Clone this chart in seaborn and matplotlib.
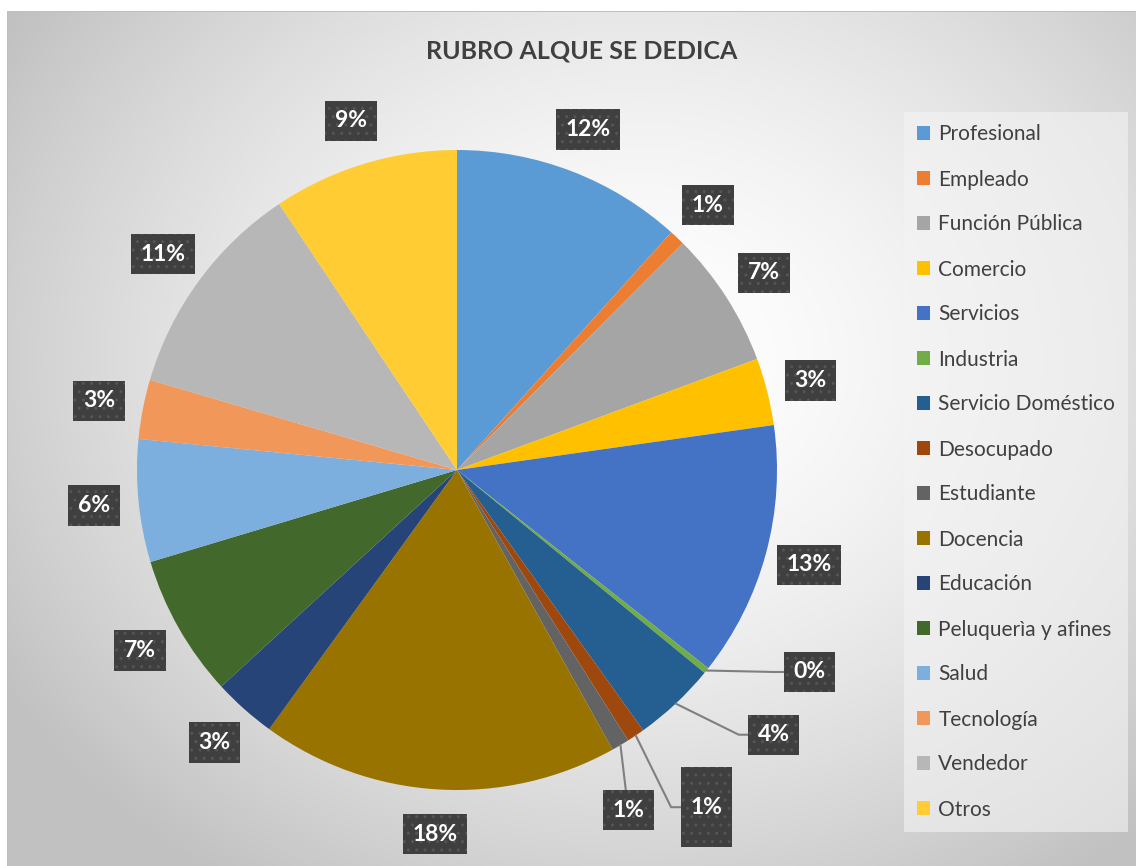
import numpy as np
import matplotlib.pyplot as plt
import seaborn as sns

# data (percent of respondents)
categories = ["Profesional", "Empleado", "Función Pública", "Comercio", "Servicios",
              "Industria", "Servicio Doméstico", "Desocupado", "Estudiante", "Docencia",
              "Educación", "Peluquerìa y afines", "Salud", "Tecnología", "Vendedor", "Otros"]
shares = [11.7, 0.8, 6.9, 3.4, 12.9, 0.3, 4.2, 0.9, 0.9, 18.1, 3.2, 7.2, 6.2, 3.0, 11.1, 9.4]
colors = ["#5B9BD5", "#ED7D31", "#A5A5A5", "#FFC000", "#4472C4", "#70AD47", "#255E91",
          "#9E480E", "#636363", "#997300", "#264478", "#43682B", "#7CAFDD", "#F1975A",
          "#B7B7B7", "#FFCD33"]
title = "RUBRO ALQUE SE DEDICA"

# label placement: radius factor and clockwise shift (deg) from slice middle
lab_r = [1.14] * 16
lab_shift = [0] * 16
lab_r[5], lab_shift[5] = 1.27, -9
lab_r[6], lab_shift[6] = 1.29, -7
lab_r[7], lab_shift[7] = 1.31, -2.5
lab_r[8], lab_shift[8] = 1.19, 4
leader = {5: "elbow", 6: "elbow", 7: "elbow", 8: "direct"}

sns.set_style("white")
plt.rcParams['font.family'] = ['Lato', 'DejaVu Sans']

W, H = 1136, 866
fig = plt.figure(figsize=(W / 100, H / 100), dpi=100)
fig.patch.set_facecolor("white")

# grey radial gradient behind the chart, like the Excel chart area
bg = fig.add_axes([0, 0, 1, 1])
yy, xx = np.mgrid[0:H, 0:W]
d = np.hypot((xx - 640) / 760, (yy - 360) / 640)
shade = 1.0 - 0.25 * np.clip(d, 0, 1.3) ** 1.6
shade = np.clip(shade, 0.76, 1.0)
shade[:12, :] = 1.0
shade[:, :7] = 1.0
shade[11, 7:] = 0.75
shade[12:, 7] = 0.75
bg.imshow(np.dstack([shade] * 3), extent=(0, W, H, 0), aspect="auto")
bg.set_xlim(0, W)
bg.set_ylim(H, 0)
bg.axis("off")

ax = fig.add_axes([0, 0, 1, 1])
ax.patch.set_alpha(0)
cx, cy, R = 457, H - 470, 320
wedges, _ = ax.pie(shares, colors=colors, startangle=90, counterclock=False,
                   center=(cx, cy), radius=R, frame=True,
                   wedgeprops=dict(linewidth=0))
ax.set_xlim(0, W)
ax.set_ylim(0, H)
ax.axis("off")

total = sum(shares)
for i, w in enumerate(wedges):
    mid = np.deg2rad((w.theta1 + w.theta2) / 2)
    pos = mid - np.deg2rad(lab_shift[i])
    lx = cx + lab_r[i] * R * np.cos(pos)
    ly = cy + lab_r[i] * R * np.sin(pos)
    txt = f"{round(shares[i] / total * 100):.0f}%"
    if i == 7:
        txt = "\n" + txt + "\n"
    if i in leader:
        ex = cx + R * np.cos(mid)
        ey = cy + R * np.sin(mid)
        if leader[i] == "elbow":
            ax.plot([ex, lx - 35, lx], [ey, ly, ly], color="#7F7F7F", lw=1.5, zorder=3)
        else:
            ax.plot([ex, lx], [ey, ly], color="#7F7F7F", lw=1.5, zorder=3)
    ax.text(lx, ly, txt, ha="center", va="center", fontsize=16.5, fontweight="bold",
            color="white", linespacing=0.95, zorder=5,
            bbox=dict(boxstyle="square,pad=0.42", fc="#3F3F3F", ec="#555555",
                      hatch="..", lw=0))

ax.text(582, H - 51, title, ha="center", va="center", fontsize=18,
        fontweight="bold", color="#404040")

leg = ax.legend(wedges, categories, loc="upper left",
                bbox_to_anchor=(904, H - 112), bbox_transform=ax.transData,
                fontsize=15, labelcolor="#404040", frameon=True, fancybox=False,
                handlelength=0.65, handleheight=0.65, handletextpad=0.4,
                labelspacing=1.2, borderpad=0.6, borderaxespad=0)
leg.get_frame().set_facecolor("#F4F4F4")
leg.get_frame().set_alpha(0.6)
leg.get_frame().set_edgecolor("none")

fig.savefig("out.png", dpi=100)
